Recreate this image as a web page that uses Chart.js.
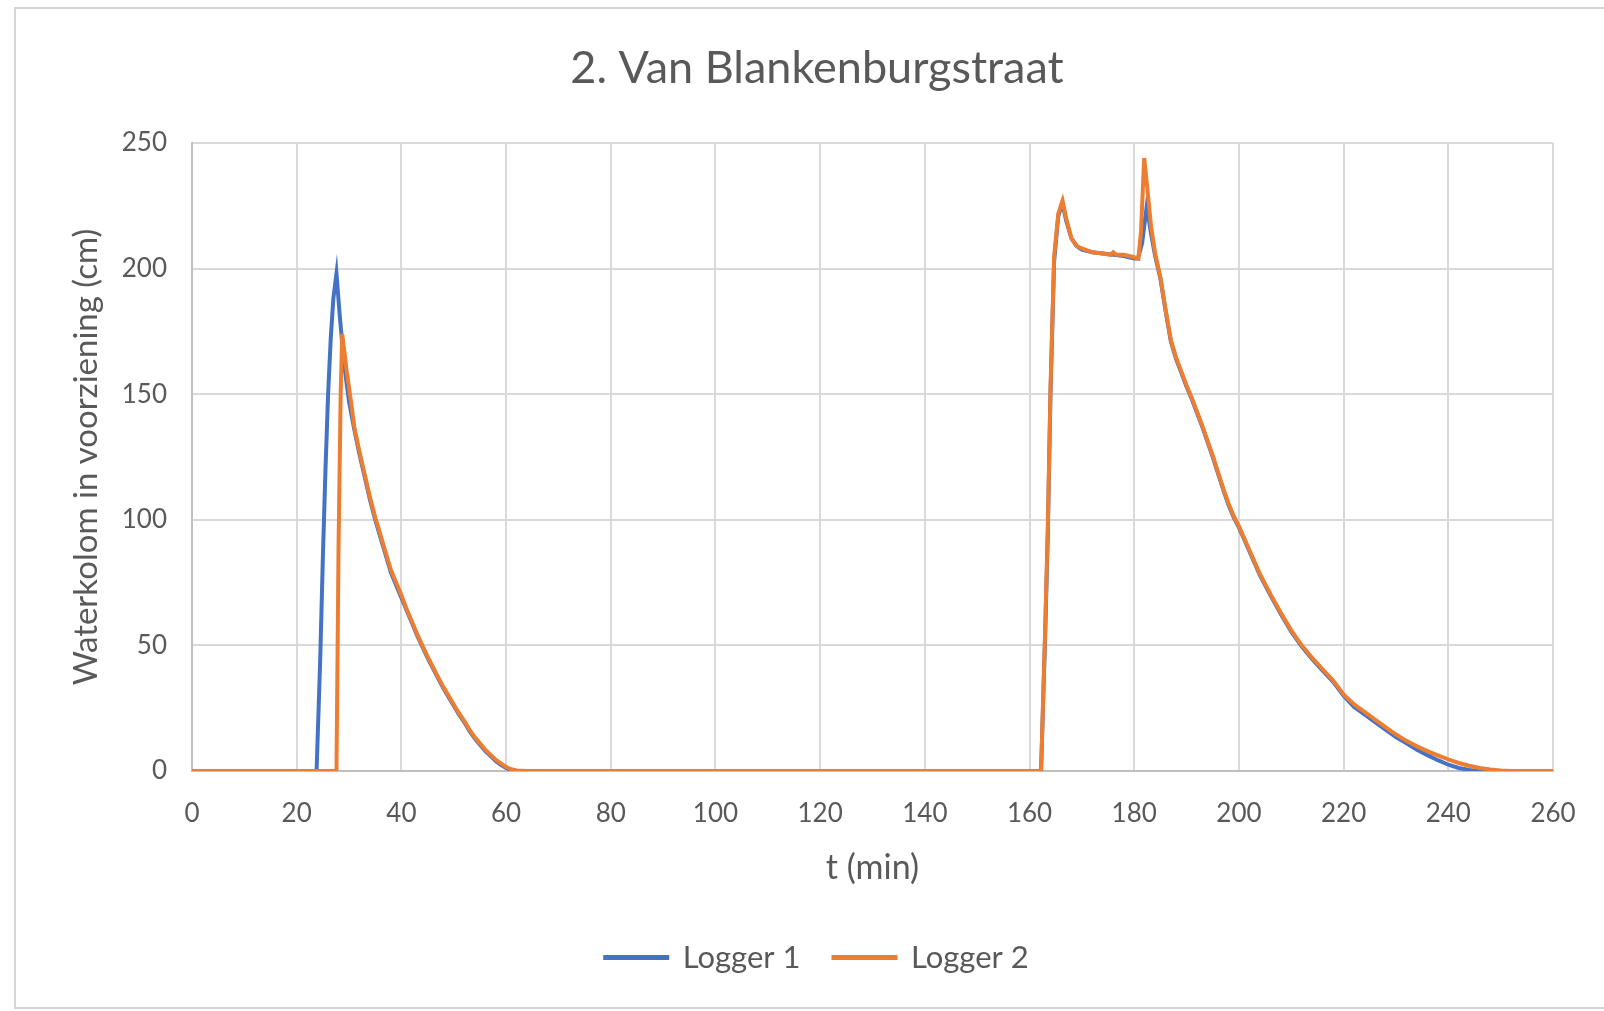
<!DOCTYPE html>
<html>
<head>
<meta charset="utf-8">
<title>2. Van Blankenburgstraat</title>
<script src="https://cdn.jsdelivr.net/npm/chart.js@4.4.1/dist/chart.umd.min.js"></script>
<style>
  html, body { margin: 0; padding: 0; background: #ffffff; overflow: hidden; width: 1604px; height: 1011px; }
  #frame { position: absolute; left: 14px; top: 7px; width: 1700px; height: 1002px; border: 2px solid #d6d6d6; box-sizing: border-box; }
  #wrap { position: absolute; left: 0; top: 0; width: 1640px; height: 1011px; }
</style>
</head>
<body>
<div id="frame"></div>
<div id="wrap"><canvas id="chart" width="1640" height="1011"></canvas></div>
<script>
// Water column measured by two loggers (time in minutes, level in cm)
const logger1Time = [0, 23.8, 24.5, 25, 25.5, 26, 26.5, 27, 27.6, 28.2, 29, 30, 31, 32, 33, 34, 35, 36, 37, 38, 39, 40,
  41, 42, 43, 44, 45, 46, 47, 48, 49, 50, 51, 52, 53, 54, 55, 56, 57, 58, 59, 60, 61, 62,
  162.2, 163, 163.5, 164, 164.7, 165.5, 166.3, 167, 168, 169, 170, 172, 174, 176, 178, 180, 180.7, 181.5, 182.4, 183.2,
  184, 185, 186, 187, 188, 189, 190, 191, 192, 193, 194, 195, 196, 197, 198, 199, 200, 202, 204, 206, 208, 210,
  212, 214, 216, 218, 220, 222, 224, 226, 228, 230, 232, 234, 236, 238, 240, 242, 244, 246, 260];
const logger1Level = [0, 0, 45, 85, 120, 150, 172, 188, 198, 182, 163, 147, 136, 126, 117, 108, 100, 93, 86, 79, 74, 69,
  64, 59, 54, 49.5, 45, 41, 37, 33, 29.5, 26, 22.5, 19.5, 16, 13, 10.5, 8, 6, 4, 2.5, 1.2, 0.4, 0,
  0, 55, 95, 150, 203, 221, 226, 219, 212, 209, 207.5, 206.5, 206, 205.5, 205, 204, 204, 210, 225, 214,
  205, 196, 183, 171, 164, 158.5, 153, 148, 142.5, 137, 131, 125, 118.5, 112, 106, 101, 97, 87.5, 78, 70, 62.5, 55.5,
  49.5, 44.5, 40, 35.5, 30, 25.5, 22.5, 19.5, 16.5, 13.5, 11, 8.5, 6.3, 4.3, 2.5, 1.2, 0.4, 0, 0];

const logger2Time = [0, 27.6, 28, 28.4, 28.7, 29.5, 30.5, 31, 32, 33, 34, 35, 36, 37, 38, 39, 40,
  41, 42, 43, 44, 45, 46, 47, 48, 49, 50, 51, 52, 53, 54, 55, 56, 57, 58, 59, 60, 61, 62, 64,
  162.2, 163, 163.5, 164, 164.7, 165.5, 166.3, 167, 168, 169, 170, 172, 174, 175.5, 176, 176.5, 178, 180, 180.8,
  181.3, 181.9, 182.5, 183.2, 184, 185, 186, 187, 188, 189, 190, 191, 192, 193, 194, 195, 196, 197, 198, 199, 200,
  202, 204, 206, 208, 210, 212, 214, 216, 218, 220, 222, 224, 226, 228, 230, 232, 234, 236, 238, 240,
  242, 244, 246, 248, 250, 252, 260];
const logger2Level = [0, 0, 90, 150, 174, 160, 145, 137, 127, 118, 109, 101, 94, 87, 80, 75, 70,
  64.5, 59.5, 54.5, 50, 45.5, 41.5, 37.5, 33.5, 30, 26.5, 23, 20, 16.5, 13.5, 11, 8.5, 6.5, 4.5, 3, 1.6, 0.7, 0.2, 0,
  0, 58, 98, 152, 205, 222, 227, 220, 212, 209, 208, 206.5, 206, 205.5, 206.5, 205.5, 205.5, 204.5, 204,
  215, 244, 232, 217, 206, 196.5, 183.5, 171.5, 164.5, 159, 153.5, 148.5, 143, 137.5, 131.5, 125.5, 119, 112.5, 106.5, 101.5, 97.5,
  88, 78.5, 70.5, 63, 56, 50, 45, 40.5, 36, 30.5, 26.5, 23.5, 20.5, 17.5, 14.5, 12, 9.8, 7.9, 6.2, 4.6,
  3.2, 2.1, 1.2, 0.6, 0.2, 0, 0];

const seriesNames = ['Logger 1', 'Logger 2'];
const chartTitle = '2. Van Blankenburgstraat';
const xTitle = 't (min)';
const yTitle = 'Waterkolom in voorziening (cm)';

const BLUE = '#4472C4';
const ORANGE = '#ED7D31';
const TEXT = '#595959';
const GRID = '#d9d9d9';
const FAMILY = 'Lato, "Open Sans", sans-serif';

const toPoints = (xs, ys) => xs.map((x, i) => ({ x: x, y: ys[i] }));

new Chart(document.getElementById('chart'), {
  type: 'line',
  data: {
    datasets: [
      { label: seriesNames[0], data: toPoints(logger1Time, logger1Level), borderColor: BLUE, backgroundColor: BLUE,
        borderWidth: 4, pointRadius: 0, tension: 0, order: 1 },
      { label: seriesNames[1], data: toPoints(logger2Time, logger2Level), borderColor: ORANGE, backgroundColor: ORANGE,
        borderWidth: 4, pointRadius: 0, tension: 0, order: 0 }
    ]
  },
  options: {
    responsive: false,
    animation: false,
    devicePixelRatio: 1,
    layout: { padding: { left: 20, right: 26, top: 0, bottom: 28 } },
    plugins: {
      title: {
        display: true, text: chartTitle, color: TEXT,
        font: { family: FAMILY, size: 45, weight: 'normal' },
        padding: { top: 41, bottom: 48 }
      },
      legend: {
        position: 'bottom',
        labels: {
          boxWidth: 62, boxHeight: 1, padding: 33, color: TEXT,
          font: { family: FAMILY, size: 31 },
          sort: (a, b) => a.datasetIndex - b.datasetIndex
        }
      },
      tooltip: { enabled: false }
    },
    scales: {
      x: {
        type: 'linear', min: 0, max: 260,
        ticks: { stepSize: 20, color: TEXT, font: { family: FAMILY, size: 26 }, padding: 27 },
        grid: { color: GRID, lineWidth: 2, drawTicks: false },
        border: { color: '#bfbfbf', width: 2 },
        title: { display: true, text: xTitle, color: TEXT, font: { family: FAMILY, size: 34 }, padding: { top: 0, bottom: 21 } },
        afterFit: (s) => { s.height = 138; }
      },
      y: {
        type: 'linear', min: 0, max: 250,
        ticks: { stepSize: 50, color: TEXT, font: { family: FAMILY, size: 26 }, padding: 25 },
        grid: { color: GRID, lineWidth: 2, drawTicks: false },
        border: { color: '#bfbfbf', width: 2 },
        title: { display: true, text: yTitle, color: TEXT, font: { family: FAMILY, size: 33 }, padding: { top: 47, bottom: 0 } },
        afterFit: (s) => { s.width = 172; }
      },
      yRight: {
        type: 'linear', position: 'right', axis: 'y',
        ticks: { display: false },
        grid: { display: false, drawTicks: false },
        border: { display: false },
        afterFit: (s) => { s.width = 61; }
      }
    }
  }
});
</script>
</body>
</html>
